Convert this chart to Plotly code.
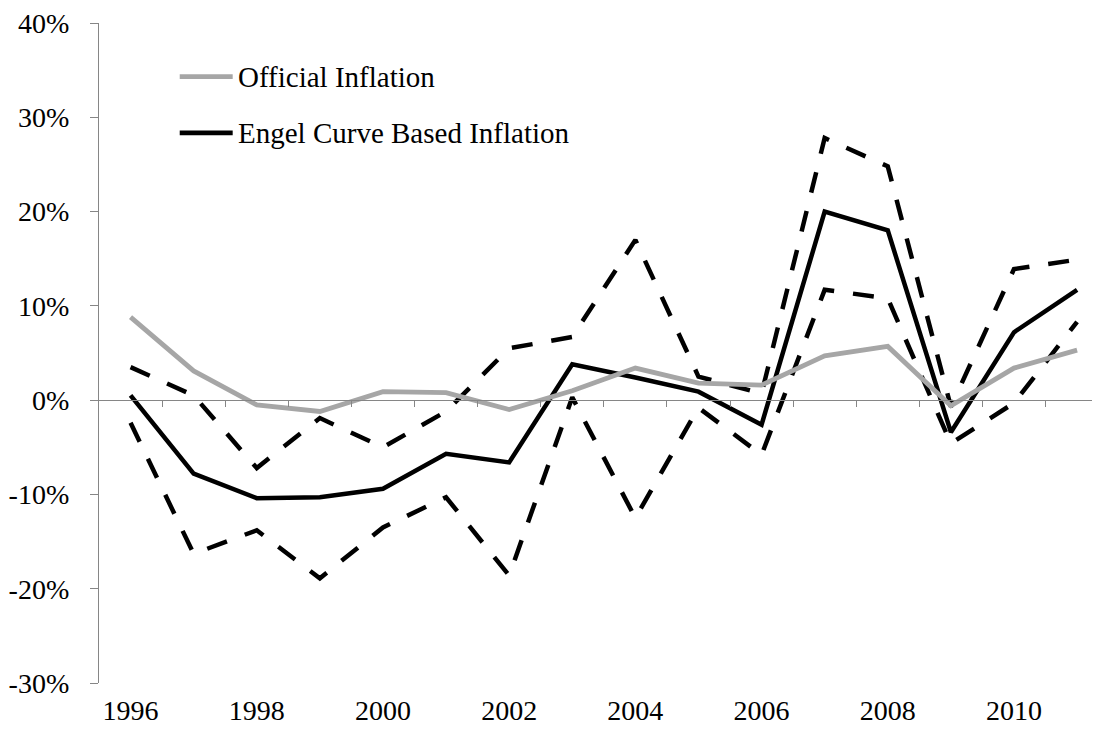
import plotly.graph_objects as go

# data (inflation, fraction)
years = list(range(1996, 2012))
official = [0.088, 0.031, -0.005, -0.012, 0.009, 0.008, -0.010, 0.010,
            0.034, 0.018, 0.016, 0.047, 0.057, -0.006, 0.034, 0.053]
engel = [0.005, -0.078, -0.104, -0.103, -0.094, -0.057, -0.066, 0.038,
         0.024, 0.009, -0.026, 0.200, 0.180, -0.034, 0.072, 0.117]
engel_upper = [0.035, 0.005, -0.072, -0.019, -0.050, -0.012, 0.055, 0.067,
               0.170, 0.025, 0.007, 0.278, 0.248, -0.007, 0.139, 0.149]
engel_lower = [-0.024, -0.163, -0.138, -0.189, -0.135, -0.103, -0.186, 0.003,
               -0.125, -0.008, -0.058, 0.117, 0.108, -0.046, -0.003, 0.083]

x_label_years = list(range(1996, 2011, 2))
x_boundaries = [y + 0.5 for y in range(1996, 2011)]
y_ticks = [-0.3, -0.2, -0.1, 0.0, 0.1, 0.2, 0.3, 0.4]
y_tick_labels = ['-30%', '-20%', '-10%', '0%', '10%', '20%', '30%', '40%']

FONT = 'Liberation Serif'
AXIS_GRAY = '#868686'
LINE_GRAY = '#A6A6A6'
DASH = '21px,19px'

fig = go.Figure()
for vals in (engel_upper, engel_lower):
    fig.add_trace(go.Scatter(x=years, y=vals, mode='lines',
                             line=dict(color='black', width=4.5, dash=DASH),
                             showlegend=False, hoverinfo='skip'))
fig.add_trace(go.Scatter(x=years, y=official, mode='lines', xaxis='x2',
                         line=dict(color=LINE_GRAY, width=4.8),
                         name='Official Inflation', showlegend=False))
fig.add_trace(go.Scatter(x=years, y=engel, mode='lines',
                         line=dict(color='black', width=4.5),
                         name='Engel Curve Based Inflation', showlegend=False))

# the page body adds an 8px offset, margins below account for it
x_range = [1995.5, 2011.49]

fig.update_layout(
    width=1100, height=732,
    margin=dict(l=91, r=0, t=15, b=57),
    paper_bgcolor='white', plot_bgcolor='white',
    font=dict(family=FONT, size=28, color='black'),
    xaxis=dict(range=x_range, anchor='free', position=3 / 7, automargin=False,
               tickmode='array', tickvals=x_boundaries, showticklabels=False,
               ticks='outside', ticklen=6, tickcolor=AXIS_GRAY, tickwidth=1.3,
               showline=True, linecolor=AXIS_GRAY, linewidth=1.3,
               showgrid=False, zeroline=False),
    xaxis2=dict(range=x_range, overlaying='x', anchor='y', side='bottom',
                automargin=False, ticklabeloverflow='allow',
                tickmode='array', tickvals=x_label_years,
                ticktext=[str(y) for y in x_label_years],
                ticks='', ticklabelstandoff=8,
                showline=False, showgrid=False, zeroline=False),
    yaxis=dict(range=[-0.3, 0.4], automargin=False, ticklabeloverflow='allow',
               tickmode='array', tickvals=y_ticks,
               ticktext=y_tick_labels, ticks='outside', ticklen=8,
               tickcolor=AXIS_GRAY, tickwidth=1.3, ticklabelstandoff=15,
               showline=True, linecolor=AXIS_GRAY, linewidth=1.3,
               showgrid=False, zeroline=False),
)

# legend drawn by hand to match the original placement
legend_items = [('Official Inflation', LINE_GRAY, 0.9186),
                ('Engel Curve Based Inflation', 'black', 0.8336)]
for label, color, ypos in legend_items:
    fig.add_shape(type='line', xref='paper', yref='paper',
                  x0=0.0800, x1=0.1325, y0=ypos, y1=ypos,
                  line=dict(color=color, width=4.8))
    fig.add_annotation(text=label, xref='paper', yref='paper',
                       x=0.1355, y=ypos, xanchor='left', yanchor='middle',
                       showarrow=False, font=dict(family=FONT, size=29))

fig.write_html('out.html')
